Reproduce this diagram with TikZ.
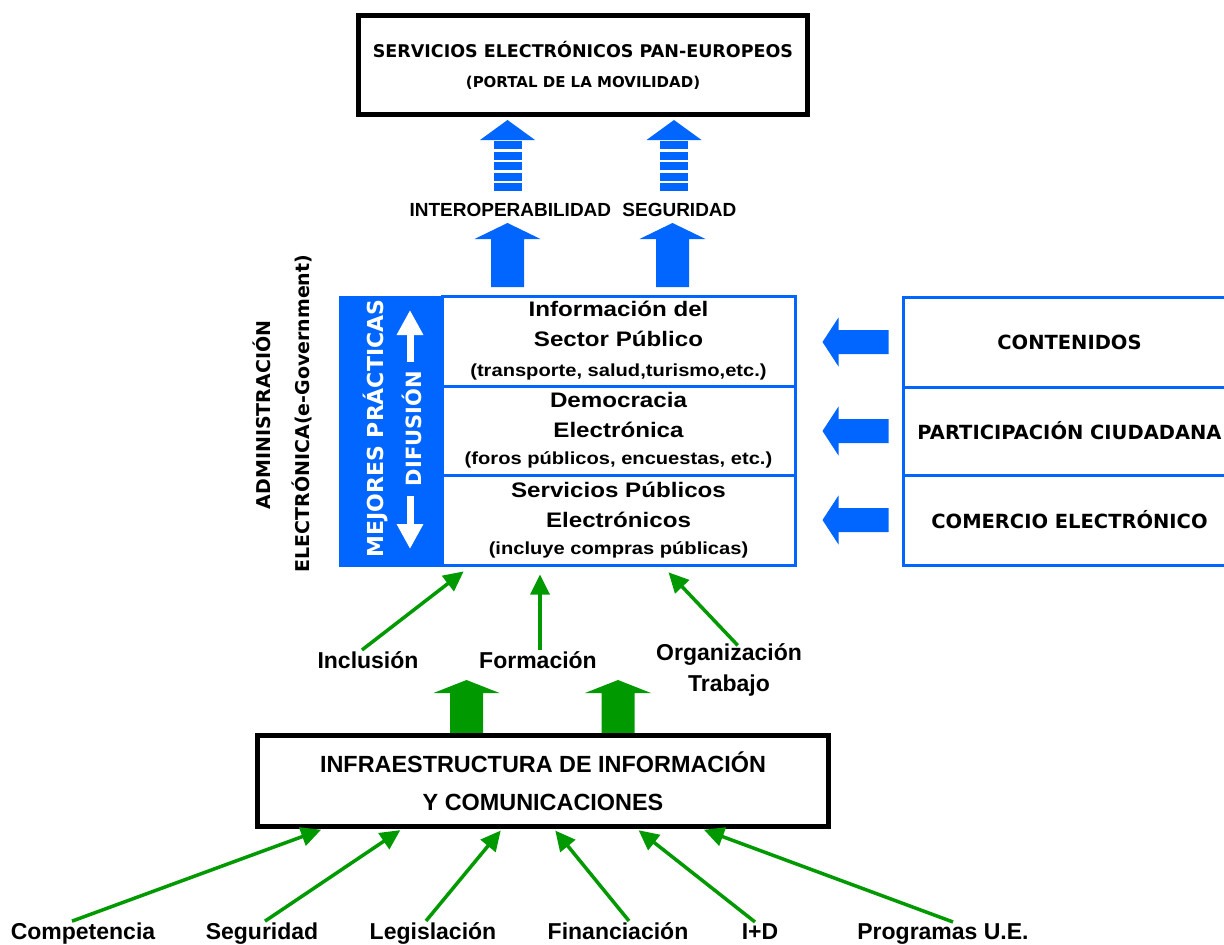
\documentclass[tikz,border=0pt]{standalone}
\usepackage{fontspec}
\setmainfont{Liberation Sans}
\newfontfamily\heavyfont{DejaVu Sans}
\newfontfamily\widefont{Liberation Sans}[FakeStretch=1.15]
\usetikzlibrary{arrows.meta, positioning, calc}
\definecolor{eblue}{RGB}{0,102,255}
\definecolor{egreen}{RGB}{0,153,0}
\newcommand{\fsz}[2]{\fontsize{#1}{#2}\selectfont}

\begin{document}
\begin{tikzpicture}[x=1pt, y=-1pt,
  blackbox/.style={draw, line width=5pt, inner sep=0pt, align=center},
  bluebox/.style={draw=eblue, line width=3pt, inner sep=0pt, align=center},
  infobox/.style={bluebox, minimum width=353pt, font=\widefont\bfseries\fsz{21}{30}},
  sidebox/.style={bluebox, minimum width=333pt, font=\heavyfont\bfseries\fsz{19.5}{24}},
  garrow/.style={egreen, line width=3.5pt, -{Triangle[length=20pt, width=19pt]}},
  warrow/.style={white, line width=7pt, -{Triangle[length=25pt, width=25pt]}},
  lab/.style={font=\bfseries\fsz{23}{31}, inner sep=1pt, align=center},
  vlab/.style={rotate=90, font=\heavyfont\bfseries\fsz{19}{24}},
]
\useasboundingbox (0,0) rectangle (1224,945);

% servicios pan-europeos
\node[blackbox, minimum width=449pt, minimum height=99pt, font=\heavyfont\bfseries\fsz{17.5}{30}] (pan) at (583,65)
  {SERVICIOS ELECTRÓNICOS PAN-EUROPEOS\\{\fsz{15}{30}(PORTAL DE LA MOVILIDAD)}};

% flechas rayadas
\foreach \cx in {507.5,674}{
  \fill[eblue] (\cx-27.5,140) -- (\cx,120) -- (\cx+27.5,140) -- cycle;
  \foreach \by in {141,151.5,162,172.5,183}
    \fill[eblue] (\cx-14,\by) rectangle (\cx+14,\by+8);
}
\node[font=\bfseries\fsz{19}{23}] (interop) at (573,210) {INTEROPERABILIDAD\hspace{6pt} SEGURIDAD};
\foreach \cx in {507.5,672.5}
  \fill[eblue] (\cx-16.5,287) -- (\cx-16.5,239) -- (\cx-33,239) -- (\cx,223)
    -- (\cx+33,239) -- (\cx+16.5,239) -- (\cx+16.5,287) -- cycle;

% administracion electronica
\node[infobox, minimum height=90pt] (isp) at (618.5,341)
  {Información del\\Sector Público\\{\fsz{17.5}{30}(transporte, salud,turismo,etc.)}};
\node[infobox, minimum height=89pt] (demo) at (618.5,430.5)
  {Democracia\\Electrónica\\[-3pt]{\fsz{17.5}{30}(foros públicos, encuestas, etc.)}};
\node[infobox, minimum height=90pt] (sps) at (618.5,520)
  {Servicios Públicos\\Electrónicos\\[-3pt]{\fsz{17.5}{30}(incluye compras públicas)}};
\node[fill=eblue, minimum width=104pt, minimum height=271pt, inner sep=0pt] (practicas) at (390.5,431) {};
\node[rotate=90, text=white, font=\heavyfont\bfseries\fsz{22}{26}] (mejores) at (375,428.5) {MEJORES PRÁCTICAS};
\node[rotate=90, text=white, font=\heavyfont\bfseries\fsz{21}{26}] (difusion) at (412,428.5) {DIFUSIÓN};
\draw[warrow] (410,362) -- (410,310);
\draw[warrow] (410,496) -- (410,549);
\node[vlab] (admin) at (262,415) {ADMINISTRACIÓN};
\node[vlab] (egov) at (302,413.5) {ELECTRÓNICA(e-Government)};

% cajas de la derecha
\node[sidebox, minimum height=90pt] (cont) at (1069.5,342) {CONTENIDOS};
\node[sidebox, minimum height=88pt] (partic) at (1069.5,431) {PARTICIPACIÓN CIUDADANA};
\node[sidebox, minimum height=90pt] (comer) at (1069.5,520) {COMERCIO ELECTRÓNICO};
\foreach \n in {cont,partic,comer}
  \fill[eblue] ($(\n.west)+(-13,-12)$) -- ++(-50,0) -- ++(0,-12.5) -- ++(-16,24.5)
    -- ++(16,24.5) -- ++(0,-12.5) -- ++(50,0) -- cycle;

% inclusion, formacion, organizacion
\node[lab, anchor=base] (inclu) at (368,668) {Inclusión};
\node[lab, anchor=base] (forma) at (538,668) {Formación};
\node[lab] (organ) at (729,670) {Organización\\Trabajo};
\draw[garrow, shorten >=8pt] (inclu.north -| 362,0) -- (sps.south -| 470,0);
\draw[garrow, shorten >=8pt] (forma.north -| 540,0) -- (sps.south -| 540,0);
\draw[garrow, shorten >=8pt, shorten <=-4pt] (organ.north -| 735,0) -- (sps.south -| 663,0);
\foreach \cx in {466.5,618}
  \fill[egreen] (\cx-16.5,734) -- (\cx-16.5,693) -- (\cx-33,693) -- (\cx,680)
    -- (\cx+33,693) -- (\cx+16.5,693) -- (\cx+16.5,734) -- cycle;

% infraestructura
\node[blackbox, minimum width=571pt, minimum height=91pt, font=\bfseries\fsz{23.4}{38}] (infra) at (543,781)
  {INFRAESTRUCTURA DE INFORMACIÓN\\Y COMUNICACIONES};
\node[lab, anchor=base] (compet) at (83,939) {Competencia};
\node[lab, anchor=base] (segur) at (262,939) {Seguridad};
\node[lab, anchor=base] (legis) at (433,939) {Legislación};
\node[lab, anchor=base] (finan) at (618,939) {Financiación};
\node[lab, anchor=base] (imasd) at (760,939) {I+D};
\node[lab, anchor=base] (progr) at (943,939) {Programas U.E.};
\foreach \n/\s/\t in {compet/72/323, segur/265/402, legis/426/502, finan/629/554, imasd/755/637, progr/953/702}
  \draw[garrow, shorten >=2pt] (\n.north -| \s,0) -- (infra.south -| \t,0);
\end{tikzpicture}
\end{document}
